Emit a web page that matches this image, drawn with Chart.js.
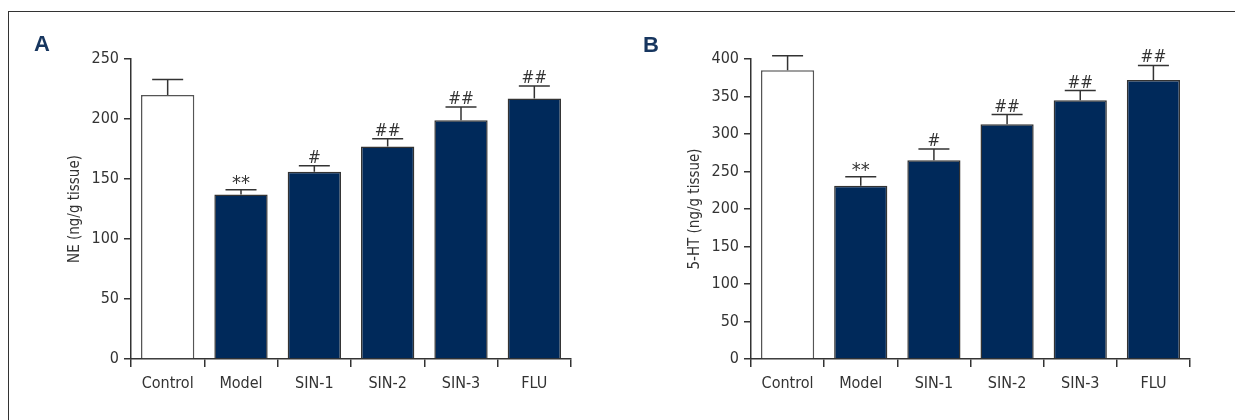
<!DOCTYPE html>
<html>
<head>
<meta charset="utf-8">
<script src="https://cdn.jsdelivr.net/npm/chart.js@4"></script>
<style>
    html, body { margin: 0; padding: 0; background: #fff; }
    #page { position: relative; width: 1235px; height: 420px; overflow: hidden; }
    /* ince çerçeve: sadece üst ve sol kenar */
    #frame { position: absolute; left: 8px; top: 11px; width: 1227px; height: 409px;
             border-left: 1px solid #333; border-top: 1px solid #333; box-sizing: border-box; }
    .panel { position: absolute; top: 0; height: 420px; }
    .letter { position: absolute; font: bold 22px 'Liberation Sans', Arial, sans-serif; color: #17365f; }
</style>
</head>
<body>
<div id="page">
    <div id="frame"></div>
    <div class="panel" style="left:0; width:620px;"><canvas id="chartNE"></canvas></div>
    <div class="panel" style="left:620px; width:615px;"><canvas id="chartHT"></canvas></div>
    <div class="letter" style="left:34px; top:31px;">A</div>
    <div class="letter" style="left:643px; top:32px;">B</div>
</div>
<script>
// ====================================
// VERİLER
// ====================================
const categories = ['Control', 'Model', 'SIN-1', 'SIN-2', 'SIN-3', 'FLU'];

// Panel A: NE (ng/g tissue)
const neMeans = [220, 137, 156, 177, 199, 217];
const neErrors = [13, 4, 5, 6.5, 11, 10.5];
const neMarks = ['', '**', '#', '##', '##', '##'];
const neTicks = [0, 50, 100, 150, 200, 250];

// Panel B: 5-HT (ng/g tissue)
const htMeans = [385, 231, 265, 313, 345, 372];
const htErrors = [19.5, 12, 15, 13, 13, 19.5];
const htMarks = ['', '**', '#', '##', '##', '##'];
const htTicks = [0, 50, 100, 150, 200, 250, 300, 350, 400];

const FONT = "'Liberation Sans Narrow', 'DejaVu Sans Condensed', 'Arial Narrow', sans-serif";
const NAVY = '#00295a';
const INK = '#333333';

Chart.defaults.font.family = FONT;
Chart.defaults.font.size = 16;
Chart.defaults.color = INK;

// Hata çubukları + anlamlılık işaretleri (üst kısım)
const errorBarPlugin = {
    id: 'errorBars',
    afterDatasetsDraw(chart, args, opts) {
        const ctx = chart.ctx;
        const yScale = chart.scales.y;
        const values = chart.data.datasets[0].data;
        ctx.save();
        ctx.strokeStyle = INK;
        ctx.fillStyle = INK;
        ctx.lineWidth = 1.5;
        ctx.textAlign = 'center';
        ctx.textBaseline = 'alphabetic';
        chart.getDatasetMeta(0).data.forEach((bar, i) => {
            const top = yScale.getPixelForValue(values[i] + opts.errors[i]);
            ctx.beginPath();
            ctx.moveTo(bar.x, bar.y);
            ctx.lineTo(bar.x, top);
            ctx.moveTo(bar.x - 15.5, top);
            ctx.lineTo(bar.x + 15.5, top);
            ctx.stroke();
            const mark = opts.marks[i];
            if (mark) {
                // yıldızlar küçük kaldığı için biraz büyütülüyor
                ctx.font = (mark.startsWith('*') ? '20px ' : '17px ') + FONT;
                ctx.fillText(mark, bar.x, top - (mark.startsWith('*') ? 1 : 3));
            }
        });
        ctx.restore();
    }
};

function makeChart(canvasId, means, errors, marks, ticks, title, rightPad) {
    const yMax = ticks[ticks.length - 1];
    return new Chart(document.getElementById(canvasId), {
        type: 'bar',
        data: {
            labels: categories,
            datasets: [{
                data: means,
                backgroundColor: means.map((v, i) => i === 0 ? '#ffffff' : NAVY),
                borderColor: means.map((v, i) => i === 0 ? '#555555' : INK),
                borderWidth: 1.5,
                barPercentage: 0.727,
                categoryPercentage: 1.0
            }]
        },
        options: {
            responsive: true,
            maintainAspectRatio: false,
            animation: false,
            layout: { padding: { left: 0, top: 59, right: rightPad, bottom: 0 } },
            plugins: {
                legend: { display: false },
                tooltip: { enabled: false },
                errorBars: { errors: errors, marks: marks }
            },
            scales: {
                x: {
                    afterFit: (scale) => { scale.height = 61; },
                    grid: { offset: true, drawOnChartArea: false, tickLength: 8, color: INK, lineWidth: 1.5 },
                    border: { color: INK, width: 1.5 },
                    ticks: { padding: 7, maxRotation: 0 }
                },
                y: {
                    min: 0,
                    max: yMax,
                    afterFit: (scale) => { scale.width = 131; },
                    afterBuildTicks: (scale) => { scale.ticks = ticks.map(v => ({ value: v })); },
                    grid: { drawOnChartArea: false, tickLength: 7, color: INK, lineWidth: 1.5 },
                    border: { color: INK, width: 1.5 },
                    ticks: { padding: 5 },
                    title: {
                        display: true,
                        text: title,
                        font: { size: 15 },
                        padding: { top: 66, bottom: 0 }
                    }
                }
            }
        },
        plugins: [errorBarPlugin]
    });
}

document.addEventListener('DOMContentLoaded', function () {
    makeChart('chartNE', neMeans, neErrors, neMarks, neTicks, 'NE (ng/g tissue)', 49);
    makeChart('chartHT', htMeans, htErrors, htMarks, htTicks, '5-HT (ng/g tissue)', 45);
});
</script>
</body>
</html>
